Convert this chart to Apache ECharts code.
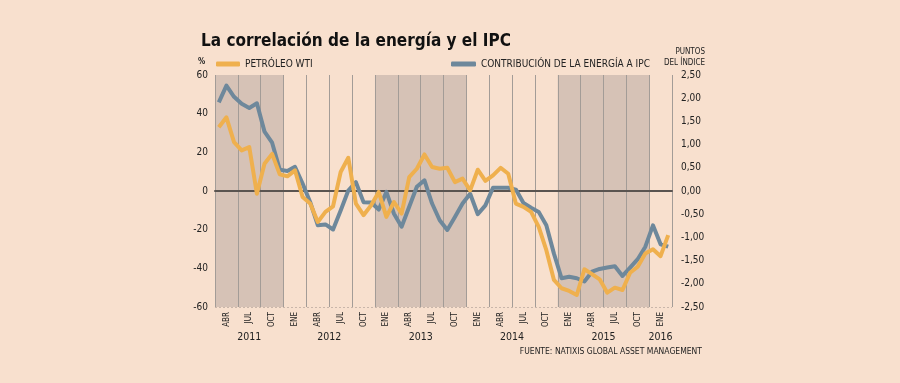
<!DOCTYPE html>
<html><head><meta charset="utf-8">
<script src="https://cdn.jsdelivr.net/npm/echarts@6/dist/echarts.min.js"></script>
<style>html,body{margin:0;padding:0;background:#F8E0CE;}#c{width:900px;height:383px;}</style>
</head><body><div id="c"></div>
<script>
// Monthly categories (Mar 2011 .. Feb 2016)
const months = ['2011-03','2011-04','2011-05','2011-06','2011-07','2011-08','2011-09','2011-10','2011-11','2011-12',
 '2012-01','2012-02','2012-03','2012-04','2012-05','2012-06','2012-07','2012-08','2012-09','2012-10','2012-11','2012-12',
 '2013-01','2013-02','2013-03','2013-04','2013-05','2013-06','2013-07','2013-08','2013-09','2013-10','2013-11','2013-12',
 '2014-01','2014-02','2014-03','2014-04','2014-05','2014-06','2014-07','2014-08','2014-09','2014-10','2014-11','2014-12',
 '2015-01','2015-02','2015-03','2015-04','2015-05','2015-06','2015-07','2015-08','2015-09','2015-10','2015-11','2015-12',
 '2016-01','2016-02'];
// Quarter tick labels and their years
const quarterLabels = ['ABR','JUL','OCT','ENE','ABR','JUL','OCT','ENE','ABR','JUL','OCT','ENE','ABR','JUL','OCT','ENE','ABR','JUL','OCT','ENE'];
const quarterYears = [2011,2011,2011,2012,2012,2012,2012,2013,2013,2013,2013,2014,2014,2014,2014,2015,2015,2015,2015,2016];
const shadedYears = [2011, 2013, 2015];
// Petróleo WTI (% , left axis)
const wti = [33, 38.1, 25.3, 21, 22.7, -1.4, 14.1, 19.2, 8.6, 7.6, 10.7, -3.1, -6.5, -16, -10.8,
 -7.9, 9.8, 17.2, -6.5, -12.5, -7.4, -0.5, -13.4, -5.7, -11.7, 7.2, 11.5, 18.9, 12.4, 11.5,
 12, 4.6, 6.4, 0.3, 11, 5.2, 8.1, 12, 8.9, -6.5, -8.2, -10.8, -18.6, -30.6, -46,
 -50.3, -51.7, -53.8, -40.5, -43, -45.7, -52.6, -50, -51.2, -42.3, -39.2, -32.3, -30.1, -33.7, -22.8];
// Contribución de la energía a IPC (puntos del índice, right axis)
const energia = [1.91, 2.27, 2.03, 1.88, 1.79, 1.89, 1.28, 1.04, 0.46, 0.43, 0.52, 0.16, -0.24, -0.74, -0.72,
 -0.83, -0.42, 0.01, 0.19, -0.24, -0.25, -0.40, -0.02, -0.49, -0.77, -0.34, 0.09, 0.23, -0.27, -0.63,
 -0.84, -0.56, -0.27, -0.06, -0.50, -0.31, 0.07, 0.07, 0.07, 0.03, -0.26, -0.36, -0.45, -0.74, -1.35,
 -1.88, -1.85, -1.88, -1.95, -1.74, -1.68, -1.65, -1.62, -1.83, -1.65, -1.47, -1.20, -0.74, -1.15, -1.20];
const yearList = [2011, 2012, 2013, 2014, 2015, 2016];

const FONT = "'DejaVu Sans Condensed','DejaVu Sans',sans-serif";
const BG = '#F8E0CE', BAND = '#D6C2B6', ORANGE = '#EFB04E', BLUE = '#6E889B';

const bandColors = quarterYears.map(y => shadedYears.includes(y) ? BAND : BG);
const yearPos = yearList.map(y => {
  const idx = quarterYears.map((q, i) => q === y ? i : -1).filter(i => i >= 0);
  return idx.reduce((a, b) => a + b, 0) / idx.length + 0.5;
});

const chart = echarts.init(document.getElementById('c'), null, {renderer: 'canvas'});
chart.setOption({
  animation: false,
  backgroundColor: BG,
  title: {text: 'La correlación de la energía y el IPC', left: 196, top: 28,
    textStyle: {fontFamily: FONT, fontWeight: 'bold', fontSize: 17, color: '#111'}},
  legend: [
    {data: ['PETRÓLEO WTI'], left: 211, top: 54, icon: 'roundRect', itemWidth: 24, itemHeight: 5,
      textStyle: {fontFamily: FONT, fontSize: 10, color: '#222'}},
    {data: ['CONTRIBUCIÓN DE LA ENERGÍA A IPC'], left: 446, top: 54, icon: 'roundRect', itemWidth: 25, itemHeight: 5,
      textStyle: {fontFamily: FONT, fontSize: 10, color: '#222'}}
  ],
  graphic: [
    {type: 'text', left: 198, top: 58, style: {text: '%', font: 'bold 8px ' + FONT, fill: '#222'}},
    {type: 'text', right: 195, top: 48, style: {text: 'PUNTOS', font: '8px ' + FONT, fill: '#222', textAlign: 'right'}},
    {type: 'text', right: 195, top: 59, style: {text: 'DEL ÍNDICE', font: '8px ' + FONT, fill: '#222', textAlign: 'right'}},
    {type: 'text', right: 198, top: 347, style: {text: 'FUENTE: NATIXIS GLOBAL ASSET MANAGEMENT', font: '8.5px ' + FONT, fill: '#222', textAlign: 'right'}}
  ],
  grid: {left: 215, right: 228, top: 75, bottom: 76, containLabel: false},
  xAxis: [
    {type: 'category', data: months, boundaryGap: true, position: 'bottom',
      axisLine: {show: true, onZero: true, onZeroAxisIndex: 0, lineStyle: {color: '#5a5450', width: 2}},
      axisTick: {show: false}, axisLabel: {show: false}, splitLine: {show: false}, z: 3},
    {type: 'category', data: quarterLabels, boundaryGap: true, position: 'bottom',
      axisLine: {show: false}, axisTick: {show: false},
      axisLabel: {rotate: 90, fontSize: 8, fontFamily: FONT, color: '#222', margin: 5, interval: 0},
      splitLine: {show: true, interval: 0, lineStyle: {color: '#A39C97', width: 1}},
      splitArea: {show: true, interval: 0, areaStyle: {color: bandColors}}},
    {type: 'value', min: 0, max: 20, position: 'bottom', offset: 17,
      axisLine: {show: false}, axisTick: {show: false}, splitLine: {show: false},
      axisLabel: {customValues: yearPos, fontSize: 10.5, fontFamily: FONT, color: '#222', margin: 8,
        formatter: v => { const i = yearPos.findIndex(p => Math.abs(p - v) < 1e-6); return i >= 0 ? String(yearList[i]) : ''; }}}
  ],
  yAxis: [
    {type: 'value', min: -60, max: 60, interval: 20, position: 'left',
      axisLine: {show: false}, axisTick: {show: false},
      axisLabel: {fontSize: 10, fontFamily: FONT, color: '#222', margin: 7},
      splitLine: {show: true, lineStyle: {color: '#C9B6AA', type: [2, 2], width: 1}}},
    {type: 'value', min: -2.5, max: 2.5, interval: 0.5, position: 'right',
      axisLine: {show: false}, axisTick: {show: false}, splitLine: {show: false},
      axisLabel: {fontSize: 10, fontFamily: FONT, color: '#222', margin: 9,
        formatter: v => v.toFixed(2).replace('.', ',')}}
  ],
  series: [
    {name: 'CONTRIBUCIÓN DE LA ENERGÍA A IPC', type: 'line', xAxisIndex: 0, yAxisIndex: 1, data: energia,
      showSymbol: false, symbol: 'none', lineStyle: {color: BLUE, width: 4, join: 'round'}, itemStyle: {color: BLUE}, z: 4},
    {name: 'PETRÓLEO WTI', type: 'line', xAxisIndex: 0, yAxisIndex: 0, data: wti,
      showSymbol: false, symbol: 'none', lineStyle: {color: ORANGE, width: 4, join: 'round'}, itemStyle: {color: ORANGE}, z: 5}
  ]
});
</script></body></html>
